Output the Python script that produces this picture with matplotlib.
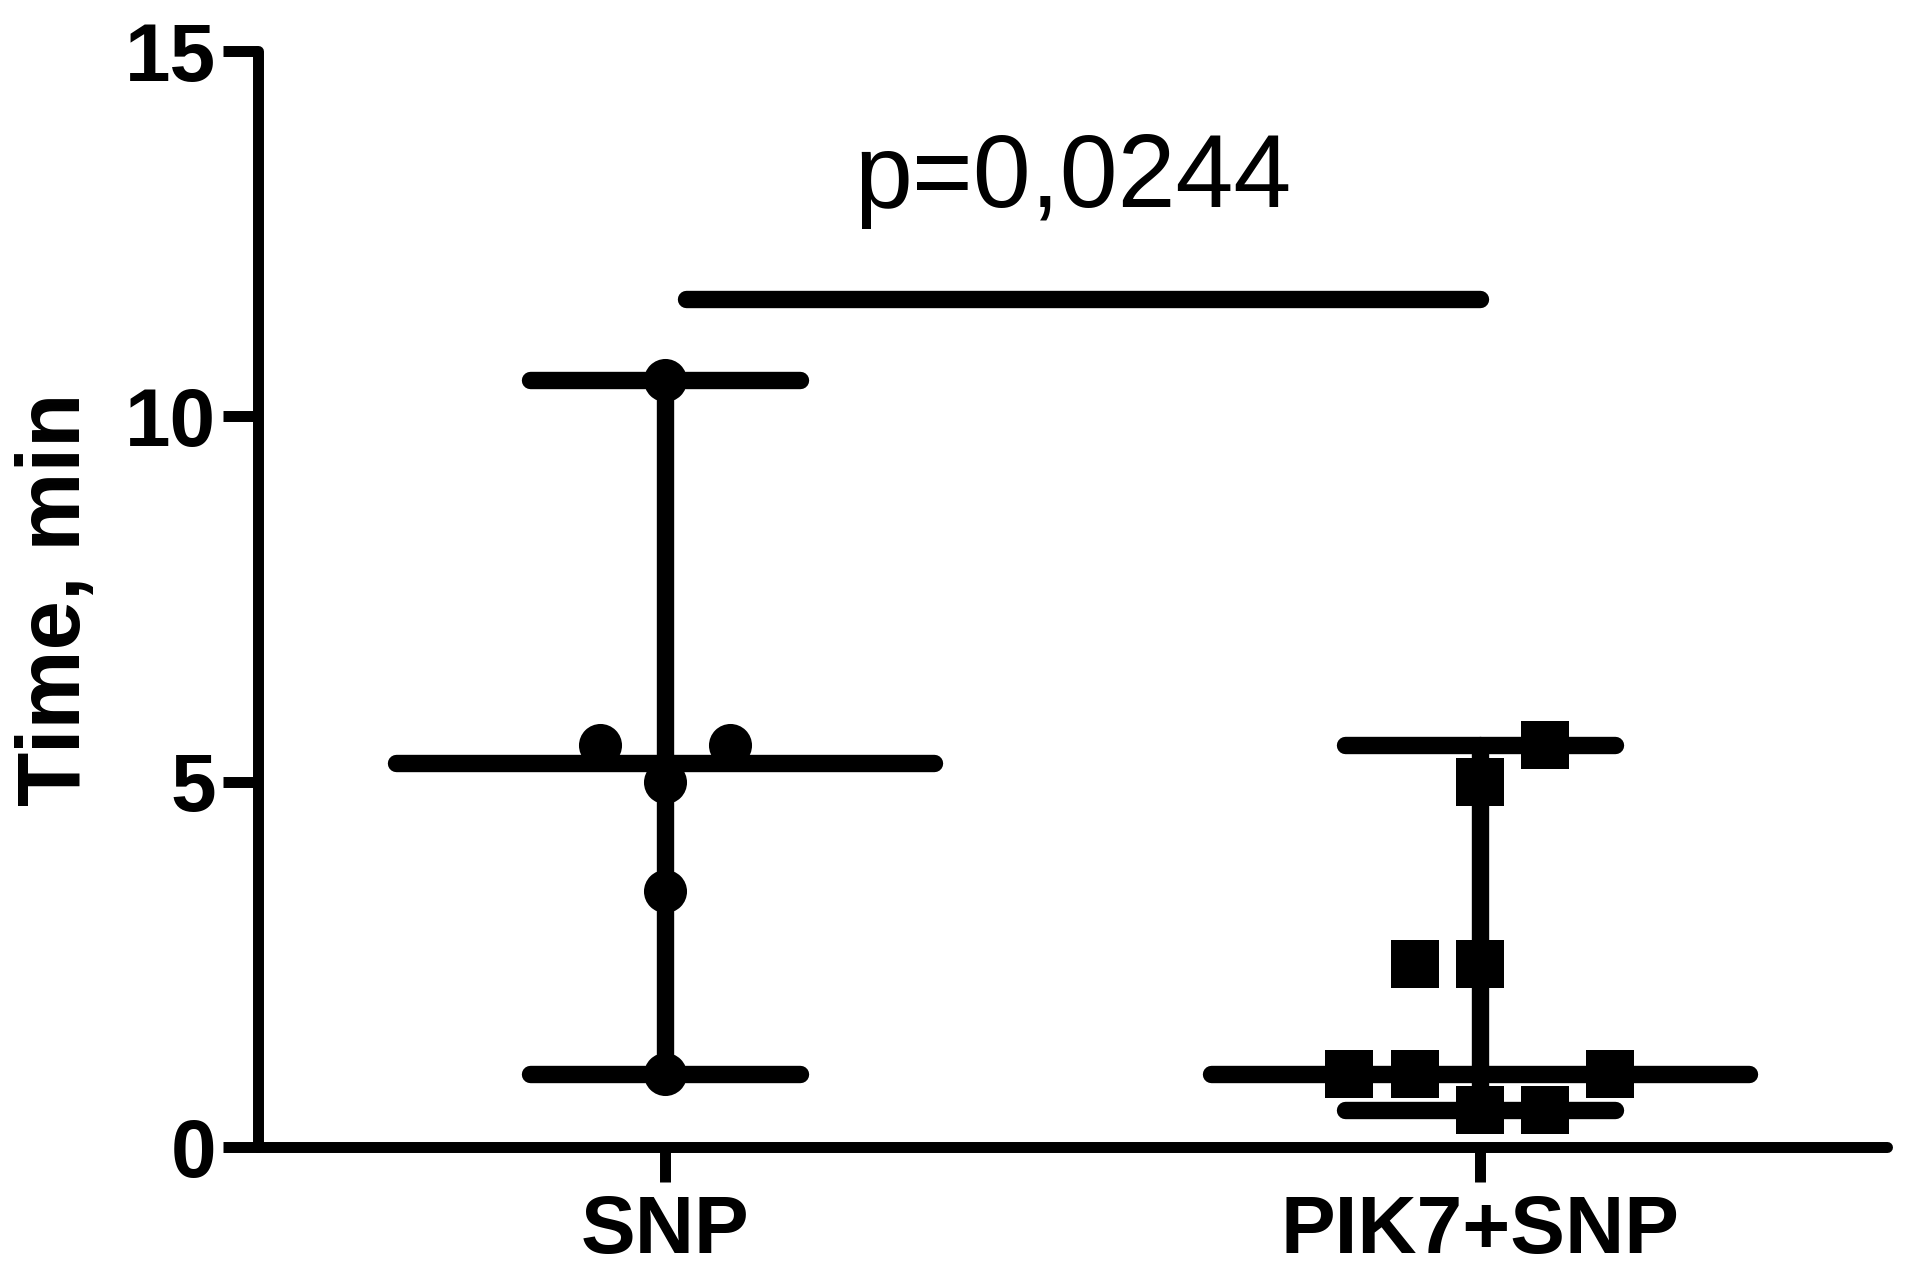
import numpy as np
import matplotlib
matplotlib.use("Agg")
import matplotlib.pyplot as plt

# scatter dot plot with median and range, two groups, significance bar on top

GROUPS = ["SNP", "PIK7+SNP"]
SNP_VALUES = [10.5, 5.5, 5.5, 5.0, 3.5, 1.0]
PIK_VALUES = [5.5, 5.0, 2.5, 2.5, 1.0, 1.0, 1.0, 0.5, 0.5]
Y_TICKS = [0, 5, 10, 15]
P_TEXT = "p=0,0244"
P_BAR_Y = 11.6

# horizontal spread of the points (column scatter layout)
SNP_OFFSETS = [0, -0.08, 0.08, 0, 0, 0]
PIK_OFFSETS = [0.08, 0, -0.08, 0, -0.16, -0.08, 0.16, 0, 0.08]

LW = 12.5
AX_LW = 7.9
FONT = "Liberation Sans"

plt.rcParams["font.family"] = [FONT, "DejaVu Sans"]

fig = plt.figure(figsize=(19.11, 12.86), dpi=100)
ax = fig.add_axes([258 / 1911, 1 - 1147 / 1286, (1887 - 258) / 1911, (1147 - 51) / 1286])

groups = [(1, SNP_VALUES, SNP_OFFSETS, "o", 31), (2, PIK_VALUES, PIK_OFFSETS, "s", 34)]
for xpos, vals, offs, marker, ms in groups:
    vals = np.array(vals)
    lo, hi, med = vals.min(), vals.max(), np.median(vals)
    line_kw = dict(color="black", lw=LW, solid_capstyle="round", zorder=2)
    ax.plot([xpos, xpos], [lo, hi], **line_kw)
    ax.plot([xpos - 0.166, xpos + 0.166], [hi, hi], **line_kw)
    ax.plot([xpos - 0.166, xpos + 0.166], [lo, lo], **line_kw)
    ax.plot([xpos - 0.33, xpos + 0.33], [med, med], **line_kw)
    ax.plot(xpos + np.array(offs), vals, linestyle="none", marker=marker,
            markersize=ms, color="black", markeredgewidth=0, zorder=3)

# significance bar
ax.plot([1.026, 2.0], [P_BAR_Y, P_BAR_Y], color="black", lw=LW, solid_capstyle="round")
ax.text(1.5, 12.87, P_TEXT, ha="center", va="baseline", fontsize=75, family=FONT)

ax.set_xlim(0.5, 2.5)
ax.set_ylim(0, 15)
ax.set_xticks([1, 2])
ax.set_xticklabels(GROUPS)
ax.set_yticks(Y_TICKS)
ax.set_yticklabels([str(t) for t in Y_TICKS])

for lab in ax.get_xticklabels() + ax.get_yticklabels():
    lab.set_fontweight("bold")
    lab.set_fontsize(59)

ax.tick_params(axis="both", length=25, width=AX_LW, color="black")
ax.tick_params(axis="x", pad=9)
ax.tick_params(axis="y", pad=5)

for side in ["top", "right"]:
    ax.spines[side].set_visible(False)
for side in ["left", "bottom"]:
    ax.spines[side].set_linewidth(AX_LW)
    ax.spines[side].set_capstyle("round")

ax.set_ylabel("Time, min", fontsize=64, fontweight="bold", va="center")
ax.yaxis.set_label_coords(-0.1231, 0.5)

for spine in ax.spines.values():
    spine.set_zorder(1)
for artist in ax.lines:
    artist.set_clip_on(False)

fig.savefig("out.png", dpi=100)
